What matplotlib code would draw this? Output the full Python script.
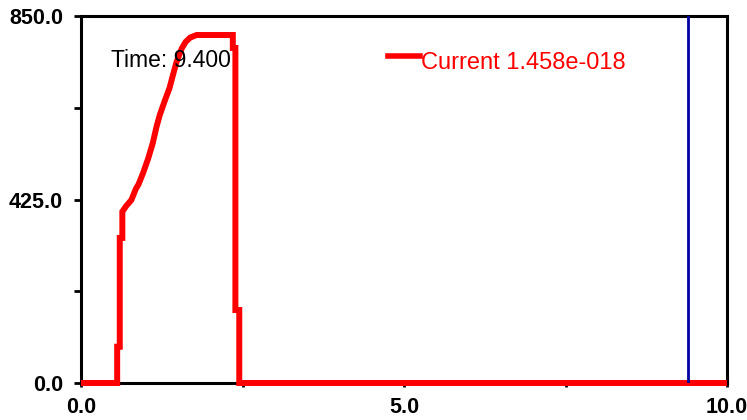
import matplotlib
matplotlib.use('Agg')
import matplotlib.pyplot as plt

# current trace (time, value)
time = [0.0, 0.56, 0.56, 0.60, 0.60, 0.64, 0.64, 0.70, 0.78, 0.85, 0.89, 0.96,
        1.04, 1.11, 1.17, 1.22, 1.30, 1.37, 1.43, 1.48, 1.56, 1.62, 1.69, 1.79,
        2.35, 2.35, 2.39, 2.39, 2.45, 2.45, 10.0]
current = [0, 0, 84, 84, 336, 336, 397, 410, 424, 450, 460, 486,
           520, 555, 594, 621, 655, 683, 717, 744, 775, 790, 800, 806,
           806, 776, 776, 169, 169, 0, 0]
time_marker = 9.4
legend_label = 'Current 1.458e-018'
time_label = 'Time: 9.400'

xticks = [0, 2.5, 5, 7.5, 10]
xticklabels = ['0.0', '', '5.0', '', '10.0']
yticks = [0, 212.5, 425, 637.5, 850]
yticklabels = ['0.0', '', '425.0', '', '850.0']

font = ['Liberation Sans', 'DejaVu Sans']

fig = plt.figure(figsize=(7.47, 4.2), dpi=100)
ax = fig.add_axes([81/747, 37/420, 646/747, 367/420])

ax.plot(time, current, color='#ff0000', lw=4.3, clip_on=False, zorder=5,
        solid_joinstyle='miter', solid_capstyle='butt')
ax.axvline(time_marker, color='#0000a0', lw=2, zorder=6)

ax.set_xlim(0, 10)
ax.set_ylim(0, 850)
ax.set_xticks(xticks)
ax.set_xticklabels(xticklabels, family=font, fontsize=15.5, fontweight='bold')
ax.set_yticks(yticks)
ax.set_yticklabels(yticklabels, family=font, fontsize=15.5, fontweight='bold')
ax.tick_params(axis='y', direction='out', length=5, width=2, pad=8)
ax.tick_params(axis='x', direction='out', length=3, width=2, pad=7)
for s in ax.spines.values():
    s.set_linewidth(2.2)
    s.set_color('black')

# time readout sits on top of the trace
ax.text(0.046, 0.88, time_label, transform=ax.transAxes, family=font,
        fontsize=16.5, va='center', ha='left', color='black', zorder=7)

# legend drawn by hand
ax.plot([0.475, 0.525], [0.89, 0.89], transform=ax.transAxes, color='#ff0000',
        lw=4, clip_on=False)
ax.text(0.527, 0.873, legend_label, transform=ax.transAxes, family=font,
        fontsize=17, va='center', ha='left', color='#ff0000')

fig.savefig('out.png', dpi=100)
